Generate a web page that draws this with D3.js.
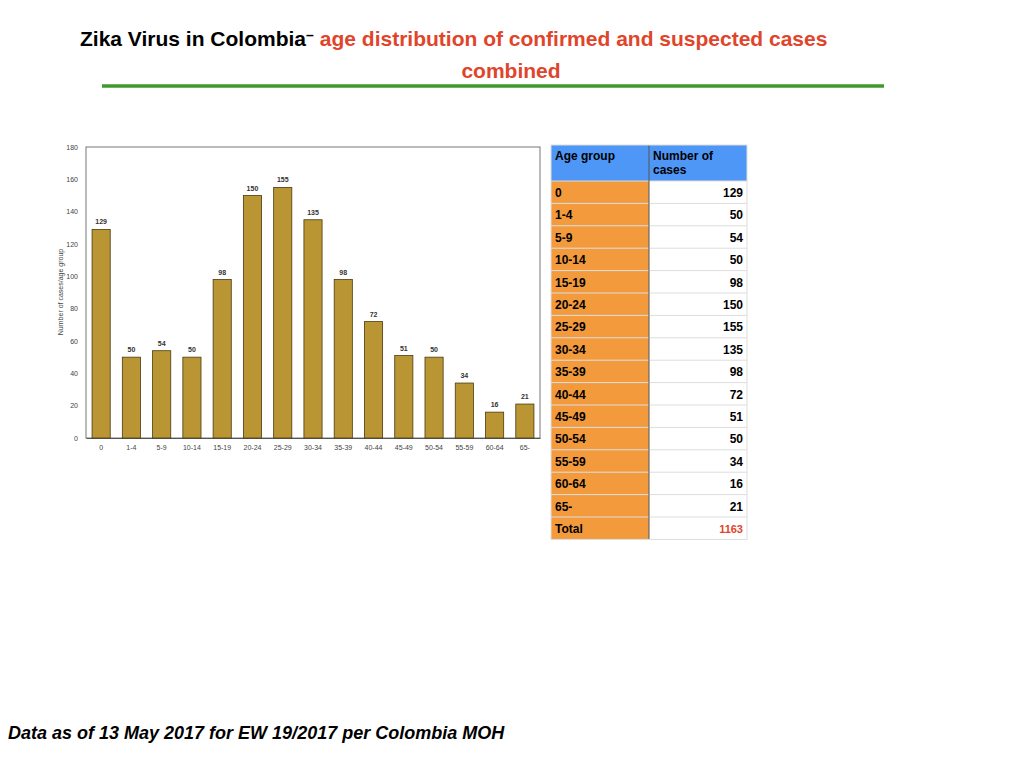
<!doctype html>
<html lang="en">
<head>
<meta charset="utf-8">
<title>Zika Virus in Colombia</title>
<script src="https://cdn.jsdelivr.net/npm/d3@7"></script>
<style>
body { margin: 0; background: #fff; font-family: "Liberation Sans", Arial, sans-serif; }
</style>
</head>
<body>
<svg id="main" width="1024" height="768"></svg>
<script>
const ageGroups = ['0','1-4','5-9','10-14','15-19','20-24','25-29','30-34','35-39','40-44','45-49','50-54','55-59','60-64','65-'];
const cases = [129, 50, 54, 50, 98, 150, 155, 135, 98, 72, 51, 50, 34, 16, 21];
const total = 1163;
const yTicks = [0, 20, 40, 60, 80, 100, 120, 140, 160, 180];

const svg = d3.select('#main');

// title
let t = svg.append('text').attr('x', 80).attr('y', 46).attr('font-size', 21).attr('font-weight', 'bold');
t.append('tspan').attr('fill', '#000').text('Zika Virus in Colombia');
t.append('tspan').attr('fill', '#000').attr('dy', -6).attr('font-size', 14).text('–');
t.append('tspan').attr('fill', '#e0452b').attr('dy', 6).attr('dx', 6).text('age distribution of confirmed and suspected cases');
svg.append('text').attr('x', 511).attr('y', 78).attr('text-anchor', 'middle')
    .attr('font-size', 21).attr('font-weight', 'bold').attr('fill', '#e0452b').text('combined');
svg.append('line').attr('x1', 102).attr('x2', 884).attr('y1', 86).attr('y2', 86)
    .attr('stroke', '#3f9a2b').attr('stroke-width', 3.5);

// chart
const x = d3.scaleBand().domain(ageGroups).range([86, 540]).paddingInner(0.4).paddingOuter(0.2);
const y = d3.scaleLinear().domain([0, 180]).range([438, 147]);

svg.append('rect').attr('x', 86).attr('y', 147).attr('width', 454).attr('height', 291)
    .attr('fill', 'none').attr('stroke', '#555').attr('stroke-width', 0.8);

const yAxis = svg.append('g').attr('transform', 'translate(86,0)')
    .call(d3.axisLeft(y).tickValues(yTicks).tickSize(0).tickPadding(6));
yAxis.select('.domain').remove();
yAxis.selectAll('text').attr('font-size', 7).attr('fill', '#444').attr('x', -8);

const xAxis = svg.append('g').attr('transform', 'translate(0,438)')
    .call(d3.axisBottom(x).tickSize(0).tickPadding(7));
xAxis.select('.domain').attr('stroke', '#555');
xAxis.selectAll('text').attr('font-size', 7).attr('fill', '#444');

svg.append('text').attr('transform', 'translate(63,292) rotate(-90)').attr('text-anchor', 'middle')
    .attr('font-size', 7).attr('fill', '#444').text('Number of cases/age group');

svg.selectAll('rect.bar').data(cases).join('rect').attr('class', 'bar')
    .attr('x', (d, i) => x(ageGroups[i])).attr('width', x.bandwidth())
    .attr('y', d => y(d)).attr('height', d => y(0) - y(d))
    .attr('fill', '#b99533').attr('stroke', '#4a3a10').attr('stroke-width', 0.8);

svg.selectAll('text.lbl').data(cases).join('text').attr('class', 'lbl')
    .attr('x', (d, i) => x(ageGroups[i]) + x.bandwidth() / 2).attr('y', d => y(d) - 5)
    .attr('text-anchor', 'middle').attr('font-size', 7).attr('font-weight', 'bold').attr('fill', '#333')
    .text(d => d);

// table
const tx0 = 551, tx1 = 649, tx2 = 747, hy = 145, hh = 36, rh = 22.4;
const tbl = svg.append('g');
tbl.append('rect').attr('x', tx0).attr('y', hy).attr('width', tx2 - tx0).attr('height', hh).attr('fill', '#4f97f7');
tbl.append('text').attr('x', tx0 + 4).attr('y', hy + 15).attr('font-size', 12).attr('font-weight', 'bold').text('Age group');
tbl.append('text').attr('x', tx1 + 4).attr('y', hy + 15).attr('font-size', 12).attr('font-weight', 'bold').text('Number of');
tbl.append('text').attr('x', tx1 + 4).attr('y', hy + 29).attr('font-size', 12).attr('font-weight', 'bold').text('cases');

const rows = ageGroups.map((g, i) => ({ g, v: cases[i], c: '#000' })).concat([{ g: 'Total', v: total, c: '#e0452b' }]);
const r = tbl.selectAll('g.row').data(rows).join('g').attr('class', 'row')
    .attr('transform', (d, i) => `translate(0,${hy + hh + i * rh})`);
r.append('rect').attr('x', tx0).attr('width', tx1 - tx0).attr('height', rh).attr('fill', '#f29a3c');
r.append('rect').attr('x', tx1).attr('width', tx2 - tx1).attr('height', rh).attr('fill', '#fff');
r.append('line').attr('x1', tx0).attr('x2', tx2).attr('y1', 0).attr('y2', 0).attr('stroke', '#ddd');
r.append('text').attr('x', tx0 + 4).attr('y', 16).attr('font-size', 12).attr('font-weight', 'bold').text(d => d.g);
r.append('text').attr('x', tx2 - 4).attr('y', 16).attr('text-anchor', 'end').attr('font-size', d => d.g === 'Total' ? 11 : 12)
    .attr('font-weight', 'bold').attr('fill', d => d.c).text(d => d.v);
tbl.append('line').attr('x1', tx1).attr('x2', tx1).attr('y1', hy).attr('y2', hy + hh + rows.length * rh).attr('stroke', '#555');
tbl.append('rect').attr('x', tx0).attr('y', hy).attr('width', tx2 - tx0).attr('height', hh + rows.length * rh)
    .attr('fill', 'none').attr('stroke', '#ddd');

// footer
svg.append('text').attr('x', 8).attr('y', 739).attr('font-size', 18).attr('font-weight', 'bold')
    .attr('font-style', 'italic').text('Data as of 13 May 2017 for EW 19/2017 per Colombia MOH');
</script>
</body>
</html>
